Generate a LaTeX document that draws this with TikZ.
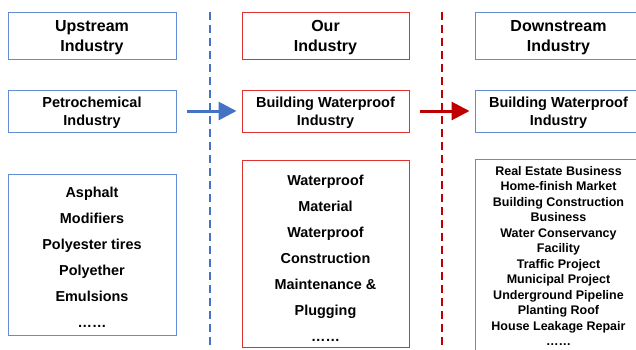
\documentclass[tikz,border=0pt]{standalone}
\usepackage{fontspec}
\setmainfont{Liberation Sans}
\usetikzlibrary{arrows.meta}

\definecolor{chainblue}{RGB}{68,114,196}
\definecolor{chainred}{RGB}{192,0,0}
\definecolor{boxblue}{RGB}{100,140,212}
\definecolor{boxred}{RGB}{220,50,50}

\tikzstyle{tier}    = [rectangle, draw=boxblue, line width=1pt
                      , minimum width=167pt, inner sep=0pt]
\tikzstyle{ourtier} = [tier, draw=boxred]
\tikzstyle{words}   = [align=center, inner sep=0pt]
\tikzstyle{heading} = [words, font=\bfseries\fontsize{16}{20}\selectfont]
\tikzstyle{sector}  = [words, font=\bfseries\fontsize{14.5}{18}\selectfont]
\tikzstyle{goods}   = [words, font=\bfseries\fontsize{14.4}{26}\selectfont]
\tikzstyle{users}   = [words, font=\bfseries\fontsize{12.5}{15.5}\selectfont]
\tikzstyle{flow}    = [line width=3pt, shorten <=10pt, shorten >=5pt
                      , -{Triangle[length=18pt, width=18pt]}]
\tikzstyle{divider} = [line width=2pt, dash pattern=on 8pt off 5pt]

\begin{document}
\begin{tikzpicture}[x=1pt, y=-1pt]
\useasboundingbox (0,0) rectangle (636,349);

%% Upstream column
\node [tier, minimum width=168pt, minimum height=47pt] (up-head) at (92,35.5) {};
\node [heading] (up-head-text) at ([yshift=-2pt]up-head.center) {Upstream\\Industry};
\node [tier, minimum width=168pt, minimum height=42pt] (up-sector) at (92,111) {};
\node [sector] (up-sector-text) at ([yshift=-2pt]up-sector.center) {Petrochemical\\Industry};
\node [tier, minimum width=168pt, minimum height=161pt] (up-list) at (92,254.5) {};
\node [goods] (up-list-text) at ([yshift=-3pt]up-list.center)
  {Asphalt\\Modifiers\\Polyester tires\\Polyether\\Emulsions\\……};

%% Our column
\node [ourtier, minimum height=47pt] (our-head) at (325.5,35.5) {};
\node [heading] (our-head-text) at ([yshift=-2pt]our-head.center) {Our\\Industry};
\node [ourtier, minimum height=42pt] (our-sector) at (325.5,111) {};
\node [sector] (our-sector-text) at ([yshift=-2pt]our-sector.center) {Building Waterproof\\Industry};
\node [ourtier, minimum height=187pt] (our-list) at (325.5,253.5) {};
\node [goods] (our-list-text) at ([yshift=-5pt]our-list.center)
  {Waterproof\\Material\\Waterproof\\Construction\\Maintenance \&\\Plugging\\……};

%% Downstream column
\node [tier, minimum height=47pt] (down-head) at (558.5,35.5) {};
\node [heading] (down-head-text) at ([yshift=-2pt]down-head.center) {Downstream\\Industry};
\node [tier, minimum height=42pt] (down-sector) at (558.5,111) {};
\node [sector] (down-sector-text) at ([yshift=-2pt]down-sector.center) {Building Waterproof\\Industry};
\node [tier, minimum height=194pt] (down-list) at (558.5,256) {};
\node [users] (down-list-text) at (down-list.center)
  {Real Estate Business\\Home-finish Market\\Building Construction\\Business\\Water Conservancy\\Facility\\Traffic Project\\Municipal Project\\Underground Pipeline\\Planting Roof\\House Leakage Repair\\……};

%% Dividers
\draw [divider, chainblue] (210,12) -- (210,349);
\draw [divider, chainred] (442,12) -- (442,349);

%% Flow arrows
\draw [flow, chainblue] (up-sector) -- (our-sector);
\draw [flow, chainred] (our-sector) -- (down-sector);

\end{tikzpicture}
\end{document}
